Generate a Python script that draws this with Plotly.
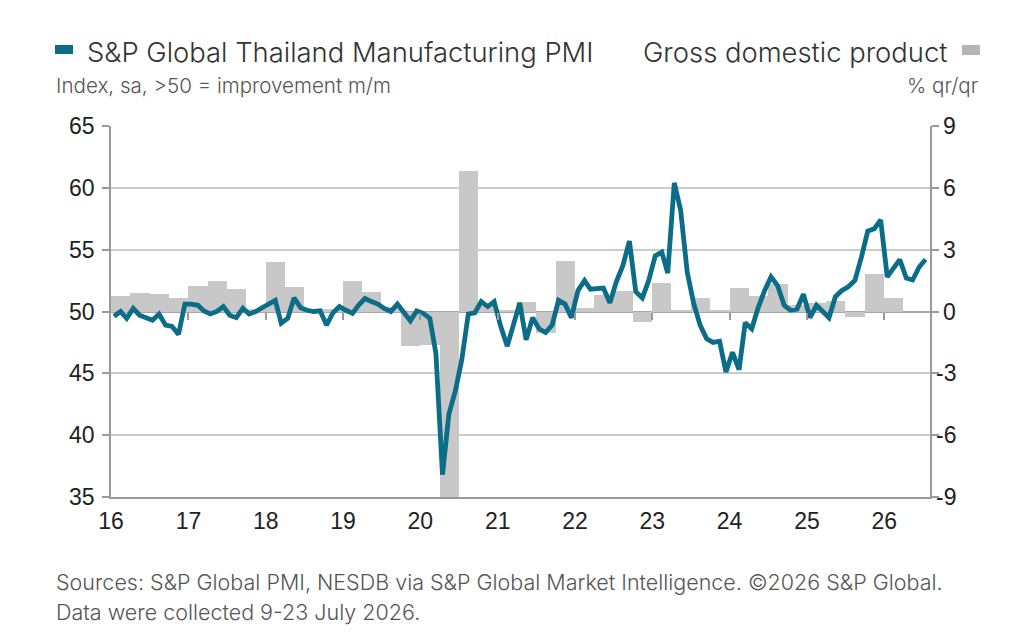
import pandas as pd
import plotly.graph_objects as go

# ---- data ----
pmi_2016 = [49.6, 50.0, 49.45, 50.25, 49.7, 49.45, 49.3, 49.8, 48.9, 48.8, 48.15, 50.6]
pmi_2017 = [50.6, 50.5, 50.05, 49.8, 50.0, 50.4, 49.7, 49.5, 50.25, 49.8, 50.0, 50.3]
pmi_2018 = [50.65, 50.9, 49.05, 49.45, 51.1, 50.3, 50.1, 50.0, 50.05, 48.9, 49.9, 50.4]
pmi_2019 = [50.1, 49.85, 50.5, 51.05, 50.8, 50.6, 50.25, 50.0, 50.6, 50.0, 49.25, 50.05]
pmi_2020 = [49.85, 49.45, 46.6, 36.8, 41.7, 43.6, 46.1, 49.8, 49.9, 50.8, 50.4, 50.8]
pmi_2021 = [48.8, 47.2, 48.8, 50.7, 47.7, 49.5, 48.6, 48.3, 48.9, 50.9, 50.6, 49.5]
pmi_2022 = [51.7, 52.5, 51.8, 51.9, 51.9, 50.7, 52.4, 53.7, 55.7, 51.6, 51.1, 52.5]
pmi_2023 = [54.5, 54.8, 53.1, 60.4, 58.2, 53.2, 50.7, 48.9, 47.8, 47.5, 47.6, 45.1]
pmi_2024 = [46.7, 45.3, 49.1, 48.6, 50.3, 51.7, 52.8, 52.1, 50.5, 50.1, 50.2, 51.4]
pmi_2025 = [49.5, 50.5, 50.0, 49.5, 51.2, 51.7, 52.0, 52.5, 54.4, 56.5, 56.7, 57.4]
pmi_2026 = [52.8, 53.5, 54.2, 52.7, 52.55, 53.6, 54.2]
pmi = (pmi_2016 + pmi_2017 + pmi_2018 + pmi_2019 + pmi_2020 + pmi_2021
       + pmi_2022 + pmi_2023 + pmi_2024 + pmi_2025 + pmi_2026)

gdp_qq = [0.76, 0.92, 0.83, 0.64,
          1.25, 1.48, 1.08, 0.1,
          2.42, 1.2, 0.1, 0.1,
          1.48, 0.95, 0.2, -1.66,
          -1.62, -9.6, 6.8, 0.25,
          0.05, 0.48, -1.03, 2.47,
          0.15, 0.8, 1.0, -0.49,
          1.4, 0.05, 0.64, 0.05,
          1.16, 0.77, 1.33, 0.3,
          0.4, 0.52, -0.28, 1.82,
          0.64]

year_ticks = ["16", "17", "18", "19", "20", "21", "22", "23", "24", "25", "26"]
pmi_ticks = [35, 40, 45, 50, 55, 60, 65]
gdp_ticks = [-9, -6, -3, 0, 3, 6, 9]

months = pd.date_range("2016-01-01", periods=len(pmi), freq="MS") + pd.Timedelta(days=14)
q_start = pd.date_range("2016-01-01", periods=len(gdp_qq), freq="QS")
q_end = q_start + pd.DateOffset(months=3)
q_width = [(e - s).total_seconds() * 1000 for s, e in zip(q_start, q_end)]
tick_dates = [pd.Timestamp(f"20{t}-01-01") for t in year_ticks]

TEAL = "#0b6d87"
BAR = "#c8c8c8"
GRID = "#cbcbcb"
AXIS = "#9a9a9a"
TXT = "#222222"
SUB = "#555555"
FONT = "Inter"
NUMF = "Liberation Sans"

X_RANGE = ["2016-01-01", "2026-08-05"]

fig = go.Figure()
fig.add_trace(go.Bar(x=q_start, y=gdp_qq, width=q_width, offset=0,
                     marker=dict(color=BAR, line=dict(width=0)),
                     xaxis="x", yaxis="y", showlegend=False, hoverinfo="skip"))
fig.add_trace(go.Scatter(x=months, y=pmi, mode="lines",
                         line=dict(color=TEAL, width=4.8),
                         xaxis="x", yaxis="y2", showlegend=False))
# invisible companion trace that carries the year tick marks at the 50 / 0 line
fig.add_trace(go.Scatter(x=months, y=pmi, mode="lines", opacity=0,
                         line=dict(width=0), xaxis="x2", yaxis="y2",
                         showlegend=False, hoverinfo="skip"))

L, R, T, B = 111, 930, 126, 497
W, H = R - L, B - T


def px(x):
    return (x - L) / W


def py(y):
    return (B - y) / H


fig.update_layout(
    width=1024, height=640,
    margin=dict(l=L, r=1024 - R, t=T, b=640 - B),
    paper_bgcolor="white", plot_bgcolor="white",
    bargap=0,
    xaxis=dict(type="date", range=X_RANGE, tickvals=tick_dates, ticktext=year_ticks,
               showgrid=False, zeroline=False, showline=True, linecolor=AXIS, linewidth=1.5,
               ticks="", ticklabelstandoff=3,
               tickfont=dict(family=NUMF, size=23, color=TXT)),
    xaxis2=dict(type="date", range=X_RANGE, overlaying="x", anchor="free", position=0.5,
                side="bottom", tickvals=tick_dates[1:], ticks="outside", ticklen=7,
                tickcolor=AXIS, tickwidth=1.5, showticklabels=False,
                showgrid=False, zeroline=False, showline=False),
    yaxis=dict(range=[-9, 9], tickvals=gdp_ticks, side="right", showgrid=False,
               zeroline=True, zerolinecolor="#a8a8a8", zerolinewidth=2,
               showline=True, linecolor=AXIS, linewidth=1.5,
               ticks="outside", ticklen=7, tickcolor=AXIS, tickwidth=1.5,
               showticklabels=False),
    yaxis2=dict(range=[35, 65], tickvals=pmi_ticks, side="left", overlaying="y",
                showgrid=True, gridcolor=GRID, gridwidth=1.5, zeroline=False,
                showline=True, linecolor=AXIS, linewidth=1.5,
                ticks="outside", ticklen=7, tickcolor=AXIS, tickwidth=1.5,
                ticklabelstandoff=3,
                tickfont=dict(family=NUMF, size=23, color=TXT)),
)

ann = []
for v in gdp_ticks:
    ann.append(dict(x=1, xref="paper", y=v, yref="y", xshift=28, xanchor="right",
                    yanchor="middle", showarrow=False, text=str(v),
                    font=dict(family=NUMF, size=23, color=TXT)))

ann += [
    dict(x=px(85), y=py(52), xref="paper", yref="paper", xanchor="left", yanchor="middle",
         showarrow=False, text="S&amp;P Global Thailand Manufacturing PMI",
         font=dict(family=FONT, size=27.4, color="#333333", weight=300)),
    dict(x=px(949), y=py(52), xref="paper", yref="paper", xanchor="right", yanchor="middle",
         showarrow=False, text="Gross domestic product",
         font=dict(family=FONT, size=27.4, color="#333333", weight=300)),
    dict(x=px(54), y=py(86), xref="paper", yref="paper", xanchor="left", yanchor="middle",
         showarrow=False, text="Index, sa, &gt;50 = improvement m/m",
         font=dict(family=FONT, size=20.6, color=SUB, weight=300)),
    dict(x=px(980), y=py(86), xref="paper", yref="paper", xanchor="right", yanchor="middle",
         showarrow=False, text="% qr/qr",
         font=dict(family=FONT, size=20.6, color=SUB, weight=300)),
    dict(x=px(54), y=py(582), xref="paper", yref="paper", xanchor="left", yanchor="middle",
         showarrow=False,
         text="Sources: S&amp;P Global PMI, NESDB via S&amp;P Global Market Intelligence. ©2026 S&amp;P Global.",
         font=dict(family=FONT, size=21.5, color=SUB, weight=300)),
    dict(x=px(54), y=py(612), xref="paper", yref="paper", xanchor="left", yanchor="middle",
         showarrow=False, text="Data were collected 9-23 July 2026.",
         font=dict(family=FONT, size=21.5, color=SUB, weight=300)),
]
fig.update_layout(annotations=ann)

fig.update_layout(shapes=[
    dict(type="rect", xref="paper", yref="paper", x0=px(55), x1=px(73), y0=py(54), y1=py(45),
         fillcolor=TEAL, line=dict(width=0)),
    dict(type="rect", xref="paper", yref="paper", x0=px(962), x1=px(980), y0=py(55), y1=py(45),
         fillcolor="#b4b4b4", line=dict(width=0)),
])

fig.write_html("out.html", config={"displayModeBar": False},
               post_script="document.body.style.margin='0px';")
